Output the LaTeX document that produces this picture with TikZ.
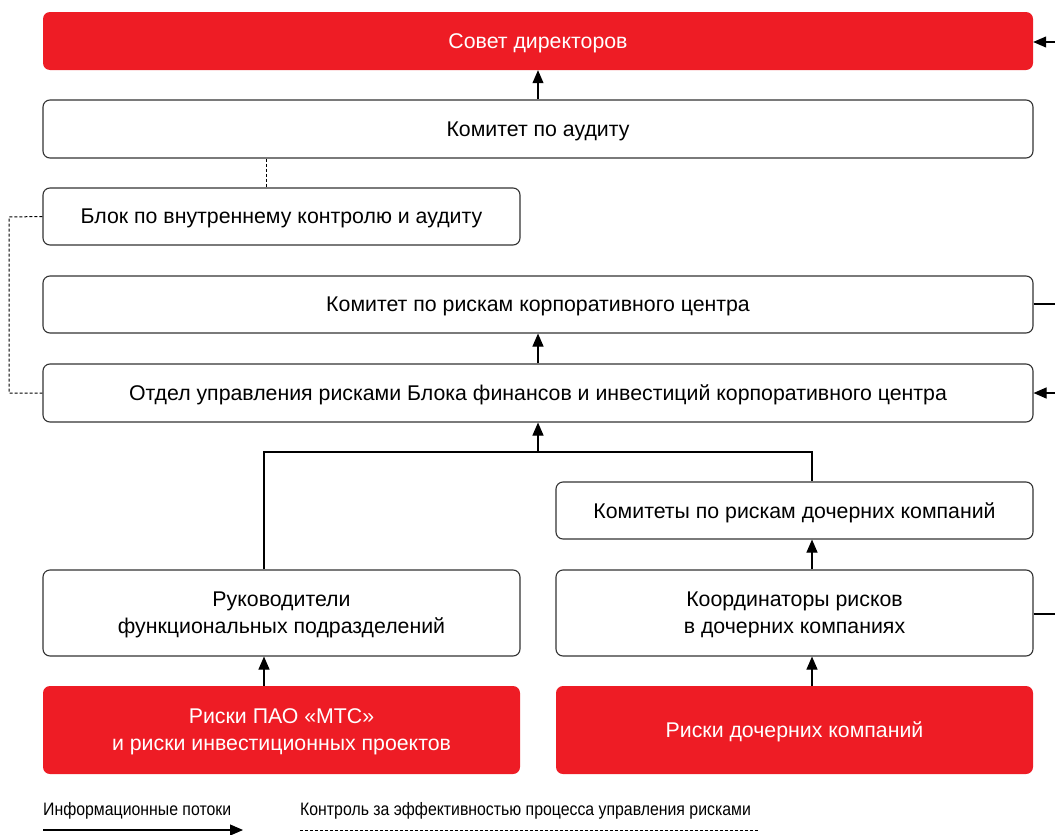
\documentclass[tikz,border=0pt]{standalone}
\usepackage{fontspec}
\setmainfont{Liberation Sans}
\newfontfamily\narrowfont[FakeStretch=0.88]{Liberation Sans}
\usetikzlibrary{arrows.meta}
\definecolor{mtsred}{HTML}{EE1C25}
\definecolor{lgray}{HTML}{333333}
\tikzset{
  box/.style={draw=lgray, line width=1.1pt, rounded corners=7pt, fill=white, inner sep=0pt, align=center, font=\fontsize{21.3}{27}\selectfont, text depth=0pt},
  redbox/.style={fill=mtsred, draw=none, rounded corners=7pt, inner sep=0pt, align=center, text=white, font=\fontsize{21.3}{27}\selectfont, text depth=0pt},
  flow/.style={line width=1.1pt, draw=black, -{Triangle[length=13pt,width=11pt]}},
  plain/.style={line width=1.1pt, draw=black},
  ctrl/.style={line width=1pt, draw=black, dash pattern=on 3pt off 2pt},
  legtext/.style={anchor=west, inner sep=0pt, font=\narrowfont\fontsize{18}{20}\selectfont},
}
\begin{document}
\begin{tikzpicture}[x=1pt,y=-1pt]
\useasboundingbox (0,0) rectangle (1055,835);
% boxes
\node[redbox, minimum width=990pt, minimum height=58pt] (sovet) at (538,41) {Совет директоров};
\node[box, minimum width=990pt, minimum height=58pt] (audit) at (538,129) {Комитет по аудиту};
\node[box, minimum width=477pt, minimum height=57pt] (blok) at (281.5,216.5) {Блок по внутреннему контролю и аудиту};
\node[box, minimum width=990pt, minimum height=57pt] (krc) at (538,304.5) {Комитет по рискам корпоративного центра};
\node[box, minimum width=990pt, minimum height=58pt] (otdel) at (538,393) {Отдел управления рисками Блока финансов и инвестиций корпоративного центра};
\node[box, minimum width=477pt, minimum height=57pt] (kdc) at (794.5,510.5) {Комитеты по рискам дочерних компаний};
\node[box, minimum width=477pt, minimum height=86pt] (ruk) at (281.5,613) {Руководители\\функциональных подразделений};
\node[box, minimum width=477pt, minimum height=86pt] (koord) at (794.5,613) {Координаторы рисков\\в дочерних компаниях};
\node[redbox, minimum width=477pt, minimum height=88pt] (rpao) at (281.5,730) {Риски ПАО «МТС»\\и риски инвестиционных проектов};
\node[redbox, minimum width=477pt, minimum height=88pt] (rdc) at (794.5,730) {Риски дочерних компаний};

% coordinates
\coordinate (j) at (538,452);
\coordinate (jl) at (264,452);
\coordinate (jr) at (812,452);
\coordinate (e1) at (1055,42);
\coordinate (e2) at (1055,304);
\coordinate (e3) at (1055,393);
\coordinate (e4) at (1055,614);
\coordinate (dl) at (9,217);
\coordinate (dl2) at (9,393);

% vertical flows
\draw[flow] (audit.north) -- (sovet.south);
\draw[flow] (otdel.north) -- (krc.south);
\draw[flow] (j) -- (otdel.south);
\draw[plain] (ruk.north -| jl) -- (jl) -- (jr) -- (kdc.north -| jr);
\draw[flow] (koord.north -| jr) -- (kdc.south -| jr);
\draw[flow] (rpao.north -| jl) -- (ruk.south -| jl);
\draw[flow] (rdc.north -| jr) -- (koord.south -| jr);

% right edge
\draw[flow] (e1) -- (e1 -| sovet.east);
\draw[plain] (krc.east |- e2) -- (e2);
\draw[flow] (e3) -- (e3 -| otdel.east);
\draw[plain] (koord.east |- e4) -- (e4);

% control (dashed)
\draw[ctrl] (audit.south -| 266,0) -- (blok.north -| 266,0);
\draw[ctrl] (blok.west) -- (dl) -- (dl2) -- (otdel.west);

% legend
\node[legtext] (leg1) at (43,811) {Информационные потоки};
\node[legtext] (leg2) at (300,811) {Контроль за эффективностью процесса управления рисками};
\coordinate (l1a) at (43,830);
\coordinate (l1b) at (243,830);
\coordinate (l2a) at (300,830);
\coordinate (l2b) at (758,830);
\draw[flow] (l1a) -- (l1b);
\draw[ctrl] (l2a) -- (l2b);
\end{tikzpicture}
\end{document}
